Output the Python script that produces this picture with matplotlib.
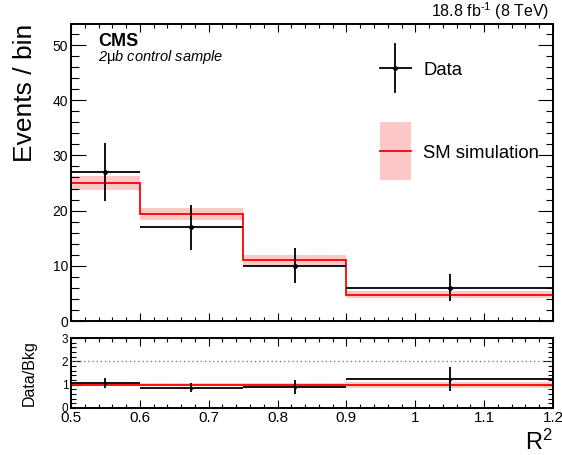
import numpy as np
import matplotlib
matplotlib.use("Agg")
import matplotlib.pyplot as plt
from matplotlib.ticker import MultipleLocator, AutoMinorLocator, FuncFormatter
from matplotlib.patches import Rectangle
from matplotlib.lines import Line2D

plt.rcParams['font.family'] = ['Liberation Sans', 'DejaVu Sans']
plt.rcParams['mathtext.fontset'] = 'custom'
plt.rcParams['mathtext.rm'] = 'Liberation Sans'
plt.rcParams['mathtext.it'] = 'Liberation Sans:italic'
plt.rcParams['mathtext.bf'] = 'Liberation Sans:bold'

# R^2 bins and yields
bin_edges = [0.5, 0.6, 0.75, 0.9, 1.2]
data_counts = [27, 17, 10, 6]
data_errors = [5.2, 4.1, 3.2, 2.45]
sim_counts = [25.0, 19.4, 11.0, 4.8]
sim_errors = [1.2, 1.1, 0.9, 0.6]

edges = np.array(bin_edges)
centres = 0.5 * (edges[1:] + edges[:-1])
halfw = 0.5 * (edges[1:] - edges[:-1])
data = np.array(data_counts, dtype=float)
derr = np.array(data_errors)
sim = np.array(sim_counts)
serr = np.array(sim_errors)

ratio = data / sim
ratio_err = derr / sim
sim_rel = serr / sim

red = '#ff0000'
pink = '#fcc8c8'


# ROOT-like legend glyphs, centred on the label text
class DataHandler:
    def legend_artist(self, legend, orig_handle, fontsize, handlebox):
        w = handlebox.width
        yc = 0.36 * fontsize
        handlebox.add_artist(Line2D([0, w], [yc, yc], color='k', lw=1.3))
        handlebox.add_artist(Line2D([w / 2, w / 2], [yc - 17.3, yc + 17.3], color='k', lw=1.3))
        handlebox.add_artist(Line2D([w / 2], [yc], marker='o', ms=2.5, color='k'))
        return handlebox


class SimHandler:
    def legend_artist(self, legend, orig_handle, fontsize, handlebox):
        w = handlebox.width
        yc = 0.36 * fontsize
        handlebox.add_artist(Rectangle((0, yc - 20.9), w, 41.8, facecolor=pink, edgecolor='none'))
        handlebox.add_artist(Line2D([0, w], [yc, yc], color=red, lw=1.3))
        return handlebox


fig = plt.figure(figsize=(5.62, 4.55), dpi=100)
ax = fig.add_axes([0.1263, 0.2945, 0.8577, 0.6527])
ax2 = fig.add_axes([0.1263, 0.1033, 0.8577, 0.1538])

# main panel
ax.stairs(sim + serr, edges, baseline=sim - serr, fill=True, color=pink, lw=0)
sim_line = ax.stairs(sim, edges, baseline=None, color=red, lw=1.3)
eb = ax.errorbar(centres, data, yerr=derr, xerr=halfw, fmt='o', ms=2.5,
                 color='k', elinewidth=1.3, capsize=0)

ax.set_xlim(0.5, 1.2)
ax.set_ylim(0, 53.8)
ax.xaxis.set_major_locator(MultipleLocator(0.1))
ax.xaxis.set_minor_locator(AutoMinorLocator(5))
ax.yaxis.set_major_locator(MultipleLocator(10))
ax.yaxis.set_minor_locator(AutoMinorLocator(5))
ax.tick_params(axis='x', which='major', direction='in', top=True, length=5.8, width=0.8, labelbottom=False)
ax.tick_params(axis='x', which='minor', direction='in', top=True, length=2.9, width=0.8)
ax.tick_params(axis='y', which='major', direction='in', right=True, length=10.8, width=0.8, labelsize=10, pad=2)
ax.tick_params(axis='y', which='minor', direction='in', right=True, length=5.4, width=0.8)
ax.set_ylabel('Events / bin', fontsize=19, loc='top')
ax.yaxis.set_label_coords(-0.07, 1.0)

ax.legend([eb, sim_line], ['Data', 'SM simulation'],
          loc='upper left', bbox_to_anchor=(0.641, 0.916), frameon=False,
          fontsize=13.3, borderpad=0, borderaxespad=0, handlelength=1.68,
          handleheight=3.0, handletextpad=0.65, labelspacing=2.31,
          handler_map={eb: DataHandler(), sim_line: SimHandler()})

# ratio panel
ax2.stairs(1 + sim_rel, edges, baseline=1 - sim_rel, fill=True, color=pink, lw=0)
ax2.axhline(1, color=red, lw=1.3)
ax2.axhline(2, color='gray', lw=1.0, ls=(0, (1, 2)))
ax2.errorbar(centres, ratio, yerr=ratio_err, xerr=halfw, fmt='o', ms=1.5,
             color='k', elinewidth=1.3, capsize=0)
ax2.set_xlim(0.5, 1.2)
ax2.set_ylim(0, 3)
ax2.xaxis.set_major_locator(MultipleLocator(0.1))
ax2.xaxis.set_minor_locator(AutoMinorLocator(5))
ax2.yaxis.set_major_locator(MultipleLocator(1))
ax2.yaxis.set_minor_locator(AutoMinorLocator(5))
ax2.tick_params(axis='x', which='major', direction='in', top=True, length=5.8, width=0.8, labelsize=11, pad=2)
ax2.tick_params(axis='x', which='minor', direction='in', top=True, length=2.9, width=0.8)
ax2.tick_params(axis='y', which='major', direction='in', right=True, length=7.2, width=0.8, labelsize=8.5, pad=2)
ax2.tick_params(axis='y', which='minor', direction='in', right=True, length=3.6, width=0.8)
ax2.xaxis.set_major_formatter(FuncFormatter(lambda v, p: f'{v:g}'))
ax2.set_ylabel('Data/Bkg', fontsize=11.5)
ax2.yaxis.set_label_coords(-0.07, 0.5)

for a in (ax, ax2):
    for s in a.spines.values():
        s.set_linewidth(1.4)

fig.text(553 / 562, 0.011, 'R$^{2}$', fontsize=17, ha='right', va='baseline')
fig.text(549 / 562, 0.9626, r'18.8 fb$^{\text{-}1}$ (8 TeV)', fontsize=11.5, ha='right', va='baseline')
fig.text(98 / 562, 0.8989, 'CMS', fontsize=13, fontweight='bold', ha='left', va='baseline')
fig.text(98 / 562, 0.866, r'2$\mathrm{\mu}$b control sample', fontsize=10.5, style='italic',
         ha='left', va='baseline')

fig.savefig('out.png', dpi=100)
